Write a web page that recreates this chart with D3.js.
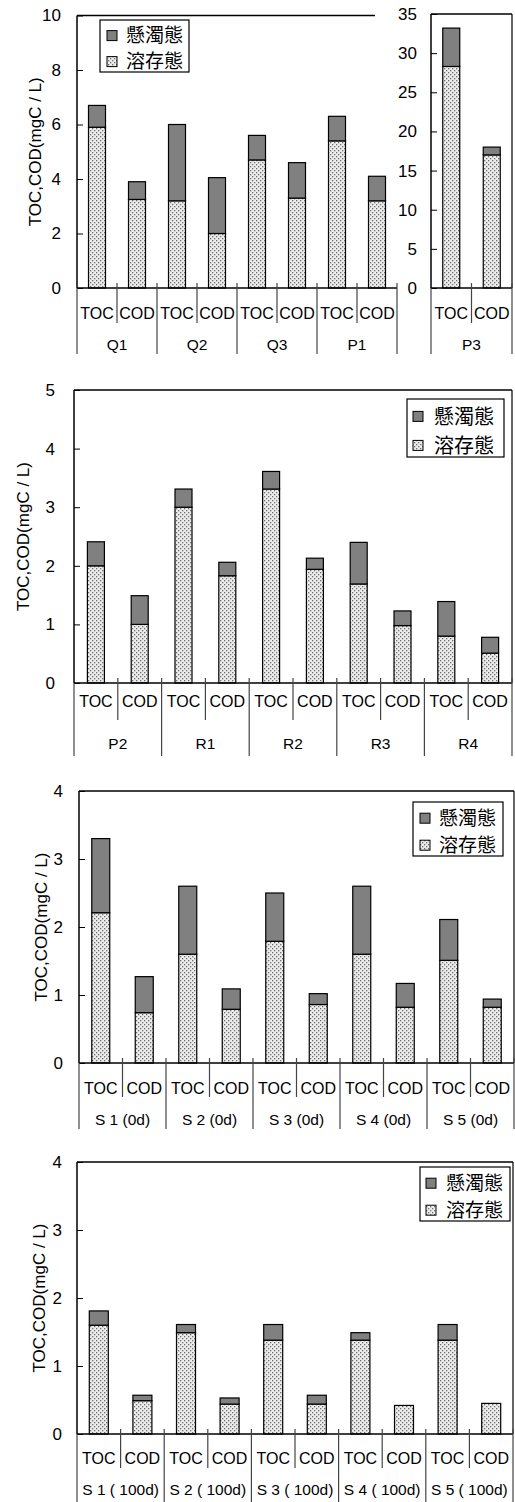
<!DOCTYPE html>
<html>
<head>
<meta charset="utf-8">
<script src="https://cdn.jsdelivr.net/npm/d3@7"></script>
<style>
  body { margin: 0; background: #fff; }
  text { font-family: "Liberation Sans", Arial, sans-serif; fill: #000; }
  .leg { font-family: "Noto Sans CJK JP", sans-serif; }
</style>
</head>
<body>
<script>

// legend / axis text
var seriesNames = ["懸濁態", "溶存態"];
var measures = ["TOC", "COD"];
var yTitle = "TOC,COD(mgC / L)";

// chart 1, left panel (values are TOC, COD for each site)
var groups1 = ["Q1", "Q2", "Q3", "P1"];
var dissolved1 = [5.9, 3.25, 3.2, 2.0, 4.7, 3.3, 5.4, 3.2];
var suspended1 = [0.8, 0.65, 2.8, 2.05, 0.9, 1.3, 0.9, 0.9];
var ticks1 = [0, 2, 4, 6, 8, 10];

// chart 1, right panel
var groups1b = ["P3"];
var dissolved1b = [28.3, 17.0];
var suspended1b = [4.9, 1.0];
var ticks1b = [0, 5, 10, 15, 20, 25, 30, 35];

// chart 2
var groups2 = ["P2", "R1", "R2", "R3", "R4"];
var dissolved2 = [2.0, 1.0, 3.0, 1.83, 3.31, 1.94, 1.69, 0.98, 0.80, 0.51];
var suspended2 = [0.41, 0.49, 0.31, 0.23, 0.30, 0.19, 0.71, 0.25, 0.59, 0.27];
var ticks2 = [0, 1, 2, 3, 4, 5];

// chart 3
var groups3 = ["S 1 (0d)", "S 2 (0d)", "S 3 (0d)", "S 4 (0d)", "S 5 (0d)"];
var dissolved3 = [2.21, 0.74, 1.60, 0.79, 1.79, 0.86, 1.60, 0.82, 1.51, 0.82];
var suspended3 = [1.09, 0.53, 1.00, 0.30, 0.71, 0.16, 1.00, 0.35, 0.60, 0.12];
var ticks3 = [0, 1, 2, 3, 4];

// chart 4
var groups4 = ["S 1 ( 100d)", "S 2 ( 100d)", "S 3 ( 100d)", "S 4 ( 100d)", "S 5 ( 100d)"];
var dissolved4 = [1.60, 0.49, 1.49, 0.44, 1.38, 0.44, 1.38, 0.42, 1.38, 0.45];
var suspended4 = [0.21, 0.08, 0.12, 0.09, 0.23, 0.13, 0.11, 0.0, 0.23, 0.0];
var ticks4 = [0, 1, 2, 3, 4];

var svg = d3.select("body").append("svg")
  .attr("width", 515)
  .attr("height", 1502);

// dotted fill for the dissolved part
var pat = svg.append("defs").append("pattern")
  .attr("id", "dots")
  .attr("patternUnits", "userSpaceOnUse")
  .attr("width", 4)
  .attr("height", 4);
pat.append("rect").attr("width", 4).attr("height", 4).attr("fill", "#ececec");
pat.append("rect").attr("x", 0).attr("y", 0).attr("width", 1.3).attr("height", 1.3).attr("fill", "#6f6f6f");
pat.append("rect").attr("x", 2).attr("y", 2).attr("width", 1.3).attr("height", 1.3).attr("fill", "#6f6f6f");

var stack = d3.stack().keys(["dis", "sus"]);

function drawPanel(p) {
  var n = p.groups.length * 2;
  var rows = d3.range(n).map(function(i) {
    return { idx: i, dis: p.dissolved[i], sus: p.suspended[i] };
  });

  var x = d3.scaleBand()
    .domain(d3.range(n))
    .range([p.x0, p.x1]);

  var y = d3.scaleLinear()
    .domain([0, p.max])
    .range([p.base, p.top]);

  var g = svg.append("g");

  // bars
  var layers = g.selectAll(".layer")
    .data(stack(rows))
    .enter().append("g")
    .attr("fill", function(d) { return d.key === "dis" ? "url(#dots)" : "#808080"; });

  layers.selectAll("rect")
    .data(function(d) { return d.filter(function(s) { return s[1] - s[0] > 0; }); })
    .enter().append("rect")
    .attr("x", function(d) { return x(d.data.idx) + (x.bandwidth() - p.barW) / 2; })
    .attr("y", function(d) { return y(d[1]); })
    .attr("width", p.barW)
    .attr("height", function(d) { return y(d[0]) - y(d[1]); })
    .attr("stroke", "#000")
    .attr("stroke-width", 1.2);

  // y axis
  var yAxis = d3.axisLeft(y)
    .tickValues(p.ticks)
    .tickFormat(d3.format("d"))
    .tickSizeInner(-6)
    .tickSizeOuter(0)
    .tickPadding(p.pad);

  var ax = g.append("g")
    .attr("transform", "translate(" + p.x0 + ",0)")
    .call(yAxis);
  ax.select(".domain").remove();
  ax.selectAll("line").attr("stroke", "#000");
  ax.selectAll("text")
    .attr("font-size", "17px")
    .attr("font-family", "Liberation Sans, Arial, sans-serif")
    .attr("fill", "#000");

  // frame
  g.append("line")
    .attr("x1", p.x0).attr("x2", p.x0)
    .attr("y1", p.top).attr("y2", p.base)
    .attr("stroke", "#000").attr("stroke-width", 1.5);
  g.append("line")
    .attr("x1", p.x0).attr("x2", p.topEnd || p.x1)
    .attr("y1", p.top).attr("y2", p.top)
    .attr("stroke", "#000").attr("stroke-width", 1.5);
  if (p.rightFrame) {
    g.append("line")
      .attr("x1", p.x1).attr("x2", p.x1)
      .attr("y1", p.top).attr("y2", p.base)
      .attr("stroke", "#000").attr("stroke-width", 1.2);
  }
  g.append("line")
    .attr("x1", p.x0).attr("x2", p.x1)
    .attr("y1", p.base).attr("y2", p.base)
    .attr("stroke", "#000").attr("stroke-width", 1.5);

  // category separators
  g.selectAll(".sep")
    .data(d3.range(n + 1))
    .enter().append("line")
    .attr("x1", function(i) { return i === n ? p.x1 : x(i); })
    .attr("x2", function(i) { return i === n ? p.x1 : x(i); })
    .attr("y1", function(i) { return i === 0 ? p.base : p.base - 5; })
    .attr("y2", function(i) { return i % 2 === 0 ? p.groupBottom : p.catBottom; })
    .attr("stroke", "#444")
    .attr("stroke-width", 1.2);

  // TOC / COD labels
  g.selectAll(".cat")
    .data(d3.range(n))
    .enter().append("text")
    .attr("x", function(i) { return x(i) + x.bandwidth() / 2; })
    .attr("y", p.catY)
    .attr("dy", "0.35em")
    .attr("text-anchor", "middle")
    .attr("font-size", "16px")
    .text(function(i) { return measures[i % 2]; });

  // site labels
  g.selectAll(".grp")
    .data(p.groups)
    .enter().append("text")
    .attr("x", function(d, i) { return x(i * 2) + x.bandwidth(); })
    .attr("y", p.groupY)
    .attr("dy", "0.35em")
    .attr("text-anchor", "middle")
    .attr("font-size", "15.5px")
    .text(function(d) { return d; });

  if (p.title) {
    svg.append("text")
      .attr("transform", "translate(" + p.titleX + "," + ((p.top + p.base) / 2) + ") rotate(-90)")
      .attr("text-anchor", "middle")
      .attr("dy", "0.35em")
      .attr("font-size", "17px")
      .text(yTitle);
  }

  if (p.legend) drawLegend(p.legend);
}

function drawLegend(l) {
  var g = svg.append("g");
  g.append("rect")
    .attr("x", l.x).attr("y", l.y)
    .attr("width", l.w).attr("height", l.h)
    .attr("fill", "#fff").attr("stroke", "#000").attr("stroke-width", 1.2);
  seriesNames.forEach(function(name, i) {
    var cy = l.y + l.h * (i === 0 ? 0.3 : 0.8);
    g.append("rect")
      .attr("x", l.sx).attr("y", cy - 5)
      .attr("width", 10).attr("height", 10)
      .attr("fill", i === 0 ? "#808080" : "url(#dots)")
      .attr("stroke", "#000").attr("stroke-width", 1);
    g.append("text")
      .attr("class", "leg")
      .attr("x", l.tx).attr("y", cy)
      .attr("dy", "0.36em")
      .attr("font-size", l.fs + "px")
      .text(name);
  });
}

drawPanel({
  groups: groups1, dissolved: dissolved1, suspended: suspended1, ticks: ticks1, max: 10,
  x0: 77, x1: 397, top: 15.5, base: 288, topEnd: 375, barW: 17, pad: 16,
  catY: 313, catBottom: 323, groupY: 345, groupBottom: 354,
  title: true, titleX: 35,
  legend: { x: 100, y: 20, w: 89, h: 52, sx: 107, tx: 126, fs: 19 }
});

drawPanel({
  groups: groups1b, dissolved: dissolved1b, suspended: suspended1b, ticks: ticks1b, max: 35,
  x0: 431, x1: 512, top: 14, base: 288, rightFrame: true, barW: 17, pad: 14,
  catY: 313, catBottom: 323, groupY: 345, groupBottom: 354
});

drawPanel({
  groups: groups2, dissolved: dissolved2, suspended: suspended2, ticks: ticks2, max: 5,
  x0: 74, x1: 512, top: 390, base: 683, rightFrame: true, barW: 17, pad: 19,
  catY: 701, catBottom: 720, groupY: 744, groupBottom: 756,
  title: true, titleX: 23,
  legend: { x: 407, y: 399, w: 97, h: 58, sx: 413, tx: 434, fs: 20 }
});

drawPanel({
  groups: groups3, dissolved: dissolved3, suspended: suspended3, ticks: ticks3, max: 4,
  x0: 79, x1: 514, top: 791, base: 1063, rightFrame: true, barW: 18, pad: 16,
  catY: 1088, catBottom: 1097, groupY: 1120, groupBottom: 1129,
  title: true, titleX: 41,
  legend: { x: 413, y: 802, w: 90, h: 54, sx: 420, tx: 439, fs: 19 }
});

drawPanel({
  groups: groups4, dissolved: dissolved4, suspended: suspended4, ticks: ticks4, max: 4,
  x0: 77, x1: 513, top: 1162, base: 1434, rightFrame: true, barW: 19, pad: 15,
  catY: 1458, catBottom: 1468, groupY: 1490, groupBottom: 1502,
  title: true, titleX: 39,
  legend: { x: 420, y: 1167, w: 90, h: 54, sx: 426, tx: 446, fs: 19 }
});

</script>
</body>
</html>
